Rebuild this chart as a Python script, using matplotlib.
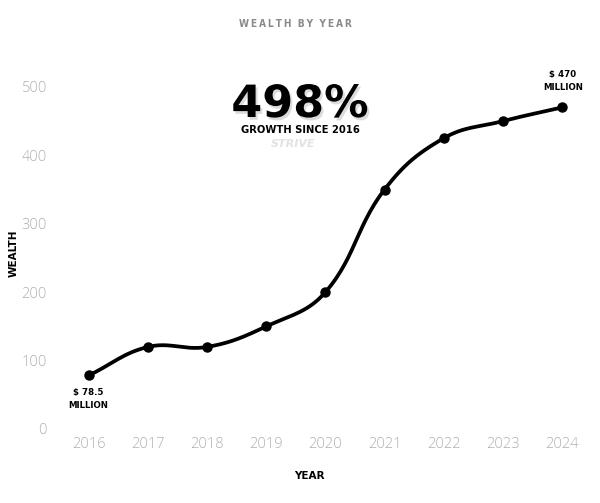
import numpy as np
import matplotlib
matplotlib.use("Agg")
import matplotlib.pyplot as plt
import matplotlib.patheffects as pe

# Дані
years = ["2016", "2017", "2018", "2019", "2020", "2021", "2022", "2023", "2024"]
wealth = [78.5, 120, 120, 150, 200, 350, 425, 450, 470]
y_ticks = [0, 100, 200, 300, 400, 500]

W, H = 600, 503


def fx(px):
    return px / W


def fy(py):
    return 1 - py / H


def spline_path(xs, ys, t=0.4, steps=30):
    # Згладжена лінія (як bezier у chart.js), дистанції в пікселях
    sx, sy = 59.1, 0.684
    px = np.array(xs, float) * sx
    py = np.array(ys, float) * sy
    n = len(px)
    cp_prev, cp_next = [], []
    for i in range(n):
        p0 = (px[max(i - 1, 0)], py[max(i - 1, 0)])
        p1 = (px[i], py[i])
        p2 = (px[min(i + 1, n - 1)], py[min(i + 1, n - 1)])
        d01 = np.hypot(p1[0] - p0[0], p1[1] - p0[1])
        d12 = np.hypot(p2[0] - p1[0], p2[1] - p1[1])
        tot = d01 + d12 if d01 + d12 else 1
        fa, fb = t * d01 / tot, t * d12 / tot
        cp_prev.append((p1[0] - fa * (p2[0] - p0[0]), p1[1] - fa * (p2[1] - p0[1])))
        cp_next.append((p1[0] + fb * (p2[0] - p0[0]), p1[1] + fb * (p2[1] - p0[1])))
    out_x, out_y = [], []
    tt = np.linspace(0, 1, steps)
    for i in range(n - 1):
        a = (px[i], py[i])
        b = cp_next[i]
        c = cp_prev[i + 1]
        d = (px[i + 1], py[i + 1])
        bx = (1 - tt) ** 3 * a[0] + 3 * (1 - tt) ** 2 * tt * b[0] + 3 * (1 - tt) * tt ** 2 * c[0] + tt ** 3 * d[0]
        by = (1 - tt) ** 3 * a[1] + 3 * (1 - tt) ** 2 * tt * b[1] + 3 * (1 - tt) * tt ** 2 * c[1] + tt ** 3 * d[1]
        out_x.extend(bx)
        out_y.extend(by)
    return np.array(out_x) / sx, np.array(out_y) / sy


fig = plt.figure(figsize=(W / 100, H / 100), dpi=100)
ax = fig.add_axes([fx(59.4), fy(429), fx(532), (429 - 59.6) / H])

x = np.arange(len(years))
cx, cy = spline_path(x, wealth)
ax.plot(cx, cy, color="black", lw=2.7, solid_capstyle="round", zorder=2)
ax.plot(x, wealth, "o", color="black", ms=6.5, zorder=3)

ax.set_xlim(-0.5, len(years) - 0.5)
ax.set_ylim(0, 540)
ax.set_xticks(x)
ax.set_xticklabels(years)
ax.set_yticks(y_ticks)
for s in ax.spines.values():
    s.set_visible(False)
ax.tick_params(length=0, colors="#b0b0b0", labelsize=10.5)
ax.tick_params(axis="x", pad=6)
ax.tick_params(axis="y", pad=9)
for lab in ax.get_xticklabels() + ax.get_yticklabels():
    lab.set_fontfamily("Open Sans")
    lab.set_fontweight("light")

heavy = dict(family="DejaVu Sans", fontweight="bold", color="black")

# Заголовок та підписи
fig.text(fx(295), fy(24), "W\u2009E\u2009A\u2009L\u2009T\u2009H  B\u2009Y  Y\u2009E\u2009A\u2009R",
         ha="center", va="center", fontsize=7.3, fontweight="bold", color="#8a8a8a",
         family="DejaVu Sans", fontstretch="condensed")
fig.text(fx(14), fy(253), "WEALTH", rotation=90, ha="center", va="center", fontsize=7.5, **heavy)
fig.text(fx(309), fy(476), "YEAR", ha="center", va="center", fontsize=7.5, **heavy)

# Велика цифра зростання (з легкою тінню)
fig.text(fx(300), fy(117), "498%", ha="center", va="baseline", fontsize=32,
         path_effects=[pe.withSimplePatchShadow(offset=(1.5, -2), shadow_rgbFace="#dcdcdc", alpha=1)],
         **heavy)
fig.text(fx(300), fy(130), "GROWTH SINCE 2016", ha="center", va="center", fontsize=7.2, **heavy)
fig.text(fx(293), fy(144), "STRIVE", ha="center", va="center", fontsize=8,
         fontweight="bold", style="italic", color="#e2e2e2", family="DejaVu Sans")

# Підписи крайніх точок
fig.text(fx(88), fy(399), "$ 78.5\nMILLION", ha="center", va="center",
         fontsize=6.2, linespacing=1.6, **heavy)
fig.text(fx(563), fy(81), "$ 470\nMILLION", ha="center", va="center",
         fontsize=6.2, linespacing=1.6, **heavy)

fig.savefig("out.png", dpi=100)
